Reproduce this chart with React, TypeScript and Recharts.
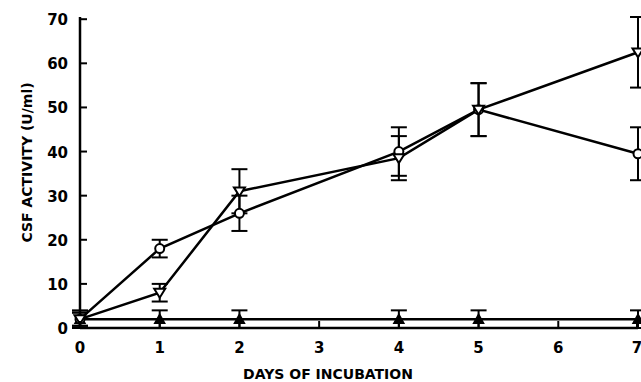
import React from "react";
import {
  ComposedChart,
  Line,
  XAxis,
  YAxis,
  ErrorBar,
} from "recharts";

// days sampled
const days = [0, 1, 2, 4, 5, 7];
// open circles
const circleVals = [2, 18, 26, 40, 49.5, 39.5];
const circleErr = [1.5, 2, 4, 5.5, 6, 6];
// open down-triangles
const triVals = [2, 8, 31, 38.5, 49.5, 62.5];
const triErr = [1.5, 2, 5, 5, 6, 8];
// filled up-triangles (control)
const ctrlVals = [2, 2, 2, 2, 2, 2];
const ctrlErr = [2, 2, 2, 2, 2, 2];

const xTicks = [0, 1, 2, 3, 4, 5, 6, 7];
const yTicks = [0, 10, 20, 30, 40, 50, 60, 70];

const data = days.map((d, i) => ({
  day: d,
  circle: circleVals[i],
  circleErr: circleErr[i],
  tri: triVals[i],
  triErr: triErr[i],
  ctrl: ctrlVals[i],
  ctrlErr: ctrlErr[i],
}));

const font = "'DejaVu Sans', Arial, sans-serif";

const CircleDot = (props: any) => {
  const { cx, cy } = props;
  if (cx == null || cy == null) return null;
  return <circle cx={cx} cy={cy} r={4.5} fill="#fff" stroke="#000" strokeWidth={2} />;
};

const DownTri = (props: any) => {
  const { cx, cy } = props;
  if (cx == null || cy == null) return null;
  const s = 5.5;
  return (
    <path
      d={`M${cx - s},${cy - s * 0.7} L${cx + s},${cy - s * 0.7} L${cx},${cy + s * 0.9} Z`}
      fill="#fff"
      stroke="#000"
      strokeWidth={2}
    />
  );
};

const UpTri = (props: any) => {
  const { cx, cy } = props;
  if (cx == null || cy == null) return null;
  const s = 5;
  return (
    <path
      d={`M${cx - s},${cy + s * 0.8} L${cx + s},${cy + s * 0.8} L${cx},${cy - s} Z`}
      fill="#000"
      stroke="#000"
      strokeWidth={1.5}
    />
  );
};

const XTick = (props: any) => {
  const { x, y, payload } = props;
  return (
    <g>
      <line x1={x} x2={x} y1={y} y2={y - 7} stroke="#000" strokeWidth={2} />
      <text
        x={x}
        y={y + 25}
        textAnchor="middle"
        fontFamily={font}
        fontWeight={700}
        fontSize={15}
        fill="#000"
      >
        {payload.value}
      </text>
    </g>
  );
};

const YTick = (props: any) => {
  const { x, y, payload } = props;
  return (
    <g>
      <line x1={x} x2={x + 7} y1={y} y2={y} stroke="#000" strokeWidth={2} />
      <text
        x={x - 12}
        y={y + 6}
        textAnchor="end"
        fontFamily={font}
        fontWeight={700}
        fontSize={15}
        fill="#000"
      >
        {payload.value}
      </text>
    </g>
  );
};

const App = () => {
  return (
    <div style={{ position: "fixed", left: 0, top: 0, background: "#fff" }}>
      <ComposedChart
        width={641}
        height={382}
        data={data}
        margin={{ top: 17, right: 3, bottom: 0, left: 0 }}
      >
        <XAxis
          dataKey="day"
          type="number"
          domain={[0, 7]}
          ticks={xTicks}
          tickLine={false}
          tickSize={0}
          tickMargin={0}
          tick={<XTick />}
          height={54}
          axisLine={{ stroke: "#000", strokeWidth: 2.5 }}
          label={{
            value: "DAYS OF INCUBATION",
            position: "insideBottom",
            offset: 3,
            dx: -31,
            fontFamily: font,
            fontWeight: 700,
            fontSize: 14,
            fill: "#000",
          }}
        />
        <YAxis
          type="number"
          domain={[0, 70]}
          ticks={yTicks}
          tickLine={false}
          tickSize={0}
          tickMargin={0}
          tick={<YTick />}
          width={80}
          axisLine={{ stroke: "#000", strokeWidth: 2.5 }}
          label={{
            value: "CSF ACTIVITY (U/ml)",
            angle: -90,
            position: "insideLeft",
            offset: 27,
            dy: -10,
            style: { textAnchor: "middle" },
            fontFamily: font,
            fontWeight: 700,
            fontSize: 14,
            fill: "#000",
          }}
        />
        <Line
          dataKey="ctrl"
          stroke="#000"
          strokeWidth={2.5}
          dot={<UpTri />}
          isAnimationActive={false}
        >
          <ErrorBar dataKey="ctrlErr" direction="y" width={8} stroke="#000" strokeWidth={2} />
        </Line>
        <Line
          dataKey="circle"
          stroke="#000"
          strokeWidth={2.5}
          dot={<CircleDot />}
          isAnimationActive={false}
        >
          <ErrorBar dataKey="circleErr" direction="y" width={8} stroke="#000" strokeWidth={2} />
        </Line>
        <Line
          dataKey="tri"
          stroke="#000"
          strokeWidth={2.5}
          dot={<DownTri />}
          isAnimationActive={false}
        >
          <ErrorBar dataKey="triErr" direction="y" width={8} stroke="#000" strokeWidth={2} />
        </Line>
      </ComposedChart>
    </div>
  );
};

export default App;
